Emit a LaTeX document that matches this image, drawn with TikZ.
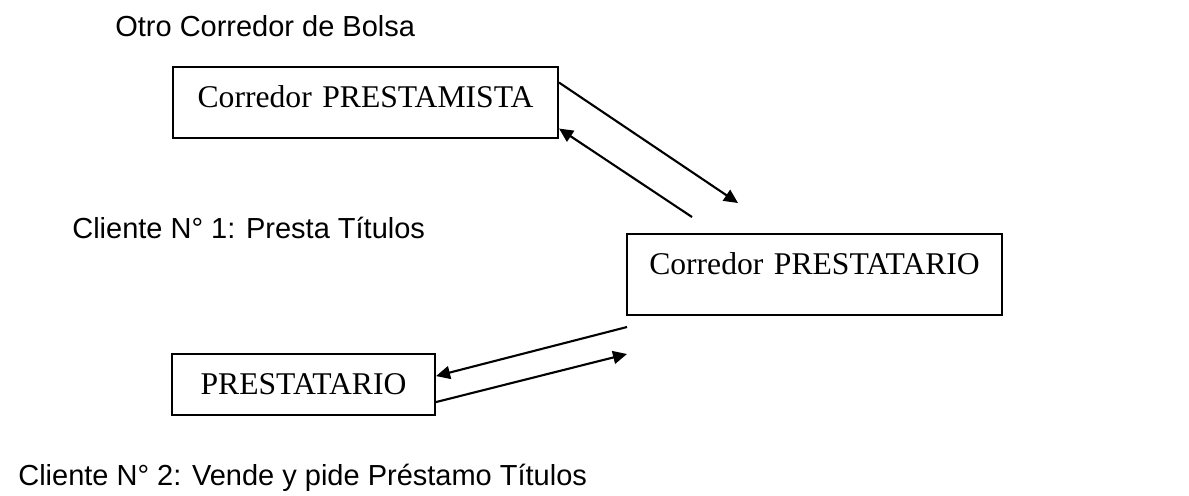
\documentclass[tikz,border=0pt]{standalone}
\usepackage{fontspec}
\setmainfont{Liberation Serif}
\newfontfamily\arialfont{Liberation Sans}
\usetikzlibrary{arrows.meta}

\tikzset{
  caja/.style={draw, line width=1.2pt, inner sep=0pt, anchor=north west,
    text height=0.8cm, align=center, font=\fontsize{18}{22}\selectfont},
  etiqueta/.style={anchor=base west, inner sep=0pt,
    font=\arialfont\fontsize{16.5}{20}\selectfont},
  flecha/.style={-{Triangle[length=0.28cm,width=0.26cm]}, line width=1.2pt}
}

\begin{document}
\begin{tikzpicture}[x=0.02cm, y=-0.02cm]
  \useasboundingbox (0,0) rectangle (1189,495);

  % etiquetas
  \node[etiqueta] (otro) at (115,36) {Otro Corredor de Bolsa};
  \node[etiqueta] (cliente1) at (72,238) {Cliente N° 1: Presta Títulos};
  \node[etiqueta] (cliente2) at (18,485) {Cliente N° 2: Vende y pide Préstamo Títulos};

  % cajas
  \node[caja, text width=7.7cm, text depth=0.62cm] (prestamista) at (172,66) {Corredor PRESTAMISTA};
  \node[caja, text width=7.5cm, text depth=0.82cm] (corredor) at (626,233) {Corredor PRESTATARIO};
  \node[caja, text width=5.26cm, text depth=0.42cm] (prestatario) at (171,353) {PRESTATARIO};

  % extremos libres
  \coordinate (ida1) at (738,203);
  \coordinate (vuelta1) at (692,217);
  \coordinate (vuelta2) at (627,327);
  \coordinate (ida2) at (627,354);

  % flechas
  \draw[flecha] ([yshift=0.4cm]prestamista.east) -- (ida1);
  \draw[flecha] (vuelta1) -- ([yshift=-0.52cm]prestamista.east);
  \draw[flecha] (vuelta2) -- ([yshift=0.17cm]prestatario.east);
  \draw[flecha] ([yshift=-0.35cm]prestatario.east) -- (ida2);
\end{tikzpicture}
\end{document}
